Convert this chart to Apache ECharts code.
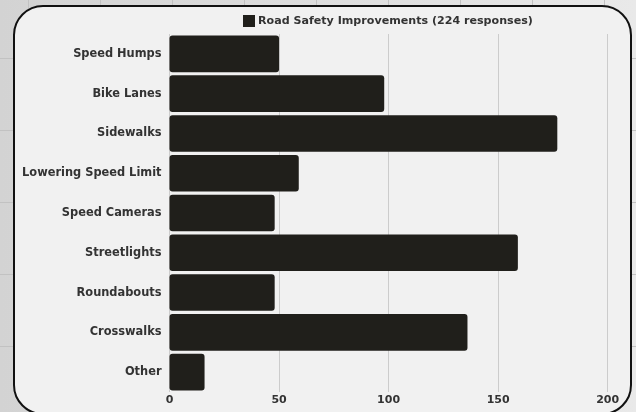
<!DOCTYPE html>
<html>
<head>
<meta charset="utf-8">
<script src="https://cdn.jsdelivr.net/npm/echarts@6/dist/echarts.min.js"></script>
<style>
  html, body { margin: 0; padding: 0; width: 636px; height: 412px; overflow: hidden; }
  body { position: relative; background: #dcdcdc; }
  #bg {
    position: absolute; left: 0; top: 0; width: 636px; height: 412px;
    background-image:
      linear-gradient(90deg, transparent 28px, #c2c2c2 28px, #c2c2c2 29px, transparent 29px),
      linear-gradient(180deg, transparent 58px, #c2c2c2 58px, #c2c2c2 59px, transparent 59px),
      linear-gradient(90deg, #d3d3d3, #e9e9e9);
    background-size: 72px 72px, 72px 72px, 636px 412px;
    background-position: 0 0, 0 0, 0 0;
    background-repeat: repeat, repeat, no-repeat;
  }
  #box {
    position: absolute; left: 13px; top: 5px; width: 615px; height: 406px;
    border: 2px solid #111; border-radius: 30px; background: #f1f1f1;
  }
  #chart { position: absolute; left: 0; top: 0; width: 636px; height: 412px; }
</style>
</head>
<body>
<div id="bg"></div>
<div id="box"></div>
<div id="chart"></div>
<script>
const categories = ["Speed Humps", "Bike Lanes", "Sidewalks", "Lowering Speed Limit", "Speed Cameras", "Streetlights", "Roundabouts", "Crosswalks", "Other"];
const responses = [50, 98, 177, 59, 48, 159, 48, 136, 16];
const seriesName = "Road Safety Improvements (224 responses)";
const xTicks = { min: 0, max: 200, interval: 50 };

const chart = echarts.init(document.getElementById('chart'), null, { renderer: 'canvas' });
const font = '"DejaVu Sans", sans-serif';
chart.setOption({
  backgroundColor: 'transparent',
  animation: false,
  textStyle: { fontFamily: font },
  legend: {
    left: 238, top: 10,
    itemWidth: 12, itemHeight: 12, itemGap: 10,
    icon: 'rect',
    textStyle: { fontFamily: font, fontSize: 11.1, fontWeight: 'bold', color: '#333', padding: [0, 0, 0, -2] },
    data: [seriesName]
  },
  grid: { left: 169.5, right: 28.3, top: 34, bottom: 20, containLabel: false },
  xAxis: {
    type: 'value', min: xTicks.min, max: xTicks.max, interval: xTicks.interval,
    axisLine: { show: false }, axisTick: { show: false },
    splitLine: { show: true, lineStyle: { color: '#cccccc', width: 1 } },
    axisLabel: { margin: 3, color: '#333', fontFamily: font, fontSize: 11, fontWeight: 'bold' }
  },
  yAxis: {
    type: 'category', data: categories, inverse: true,
    axisLine: { show: false }, axisTick: { show: false },
    axisLabel: { margin: 8, color: '#333', fontFamily: font, fontSize: 11.4, fontWeight: 'bold' }
  },
  series: [{
    name: seriesName, type: 'bar', data: responses,
    barCategoryGap: '8%',
    itemStyle: { color: '#201f1b', borderRadius: 3 }
  }]
});
</script>
</body>
</html>
